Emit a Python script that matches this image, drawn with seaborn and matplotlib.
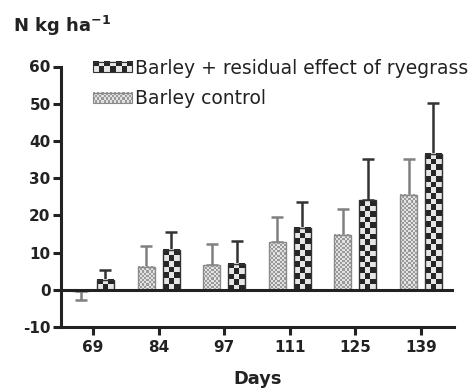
import numpy as np
import pandas as pd
import matplotlib
matplotlib.use("Agg")
import matplotlib.pyplot as plt
import seaborn as sns
from matplotlib.colors import to_rgb
from matplotlib.patches import Rectangle
from matplotlib.legend_handler import HandlerBase
from matplotlib.image import BboxImage
from matplotlib.transforms import Bbox, TransformedBbox

# ---- data ----
days = ["69", "84", "97", "111", "125", "139"]
series_names = ["Barley control", "Barley + residual effect of ryegrass"]
control = [-0.4, 6.2, 6.6, 12.8, 14.8, 25.6]
control_sd = [2.3, 5.7, 5.7, 6.7, 6.8, 9.6]
residual = [2.7, 10.8, 7.0, 16.7, 24.0, 36.6]
residual_sd = [2.5, 4.6, 6.0, 6.9, 11.2, 13.7]
y_ticks = [-10, 0, 10, 20, 30, 40, 50, 60]

sns.set_theme(style="ticks")
plt.rcParams["font.family"] = ["DejaVu Sans"]
plt.rcParams["font.weight"] = "bold"
plt.rcParams["axes.unicode_minus"] = False

INK = "#222222"
CTRL_DARK, CTRL_LIGHT, CTRL_EDGE, CTRL_ERR = "#9a9a9a", "#e2e2e2", "#8a8a8a", "#808080"
RES_DARK, RES_LIGHT, RES_EDGE, RES_ERR = "#262626", "#e6e6e6", "#333333", "#333333"


def checker(nx, ny, c1, c2):
    i, j = np.indices((ny, nx))
    mask = ((i + j) % 2 == 0)[..., None]
    return np.where(mask, np.array(to_rgb(c1)), np.array(to_rgb(c2)))


fig = plt.figure(figsize=(4.76, 3.89), dpi=100)
ax = fig.add_axes([61 / 476, 1 - 327 / 389, (454 - 61) / 476, (327 - 66.5) / 389])

df = pd.DataFrame({
    "Day": days * 2,
    "N": control + residual,
    "Series": [series_names[0]] * len(days) + [series_names[1]] * len(days),
})
sns.barplot(data=df, x="Day", y="N", hue="Series", hue_order=series_names, order=days,
            width=0.76, gap=0.32, errorbar=None, legend=False, ax=ax,
            palette=[CTRL_LIGHT, RES_DARK])

XLIM = (-0.488, 5.503)
YLIM = (-10, 60)
ax.set_xlim(*XLIM)
ax.set_ylim(*YLIM)

styles = [
    (2.1, CTRL_DARK, CTRL_LIGHT, CTRL_EDGE, CTRL_ERR, control_sd),
    (5.6, RES_DARK, RES_LIGHT, RES_EDGE, RES_ERR, residual_sd),
]
for container, (cell, cdark, clight, edge, ecol, sds) in zip(ax.containers, styles):
    xs, ys, lo, hi = [], [], [], []
    for p, sd in zip(container.patches, sds):
        x0, w = p.get_x(), p.get_width()
        y0, h = p.get_y(), p.get_height()
        ymin, ymax = sorted([y0, y0 + h])
        (px0, py0), (px1, py1) = ax.transData.transform([(x0, ymin), (x0 + w, ymax)])
        nx = max(1, int(round((px1 - px0) / cell)))
        ny = max(1, int(round((py1 - py0) / cell)))
        ax.imshow(checker(nx, ny, cdark, clight), extent=(x0, x0 + w, ymin, ymax),
                  origin="upper", aspect="auto", interpolation="nearest", zorder=2)
        p.set_facecolor("none")
        p.set_edgecolor(edge)
        p.set_linewidth(1.0)
        p.set_zorder(2.5)
        xs.append(x0 + w / 2)
        ys.append(y0 + h)
        if h < 0:
            lo.append(sd); hi.append(0)
        else:
            lo.append(0); hi.append(sd)
    ax.errorbar(xs, ys, yerr=[lo, hi], fmt="none", ecolor=ecol, elinewidth=1.8,
                capsize=4, capthick=1.8, zorder=1.5)

ax.set_xlim(*XLIM)
ax.set_ylim(*YLIM)
ax.set_yticks(y_ticks)
ax.axhline(0, color=INK, lw=2.2, zorder=3)

sns.despine(ax=ax)
for s in ["left", "bottom"]:
    ax.spines[s].set_linewidth(2.2)
    ax.spines[s].set_color(INK)
ax.tick_params(axis="both", direction="out", width=2.2, length=6, color=INK,
               labelsize=11, labelcolor=INK)
ax.tick_params(axis="y", pad=1.5)
ax.tick_params(axis="x", pad=3)
ax.set_ylabel("")
ax.set_xlabel("Days", fontsize=12.8, fontweight="bold", color=INK)
ax.xaxis.set_label_coords(0.5, -(384 - 327) / 260.5)
ax.xaxis.label.set_va("baseline")

fig.text(13 / 476, 1 - 32 / 389, r"N kg ha$^{\mathbf{-1}}$", fontsize=13,
         fontweight="bold", color=INK, va="baseline", ha="left")


class CheckerHandler(HandlerBase):
    def __init__(self, nx, ny, c1, c2, edge):
        super().__init__()
        self.nx, self.ny, self.c1, self.c2, self.edge = nx, ny, c1, c2, edge

    def create_artists(self, legend, orig_handle, xdescent, ydescent, width, height,
                       fontsize, trans):
        bb = TransformedBbox(Bbox.from_bounds(-xdescent, -ydescent, width, height), trans)
        img = BboxImage(bb, interpolation="nearest")
        img.set_data(checker(self.nx, self.ny, self.c1, self.c2))
        rect = Rectangle((-xdescent, -ydescent), width, height, facecolor="none",
                         edgecolor=self.edge, lw=0.8, transform=trans)
        return [img, rect]


h_res = Rectangle((0, 0), 1, 1)
h_ctrl = Rectangle((0, 0), 1, 1)
leg = fig.legend(
    handles=[h_res, h_ctrl], labels=[series_names[1], series_names[0]],
    handler_map={h_res: CheckerHandler(7, 2, RES_DARK, RES_LIGHT, RES_EDGE),
                 h_ctrl: CheckerHandler(19, 4, CTRL_DARK, CTRL_LIGHT, CTRL_EDGE)},
    loc="upper left", bbox_to_anchor=(93 / 476, 1 - 59 / 389), frameon=False,
    borderpad=0, borderaxespad=0, handlelength=2.1, handleheight=0.45,
    handletextpad=0.12, labelspacing=0.6,
    prop={"size": 13.5, "weight": "normal"},
)
for t in leg.get_texts():
    t.set_color(INK)

fig.savefig("out.png", dpi=100)
